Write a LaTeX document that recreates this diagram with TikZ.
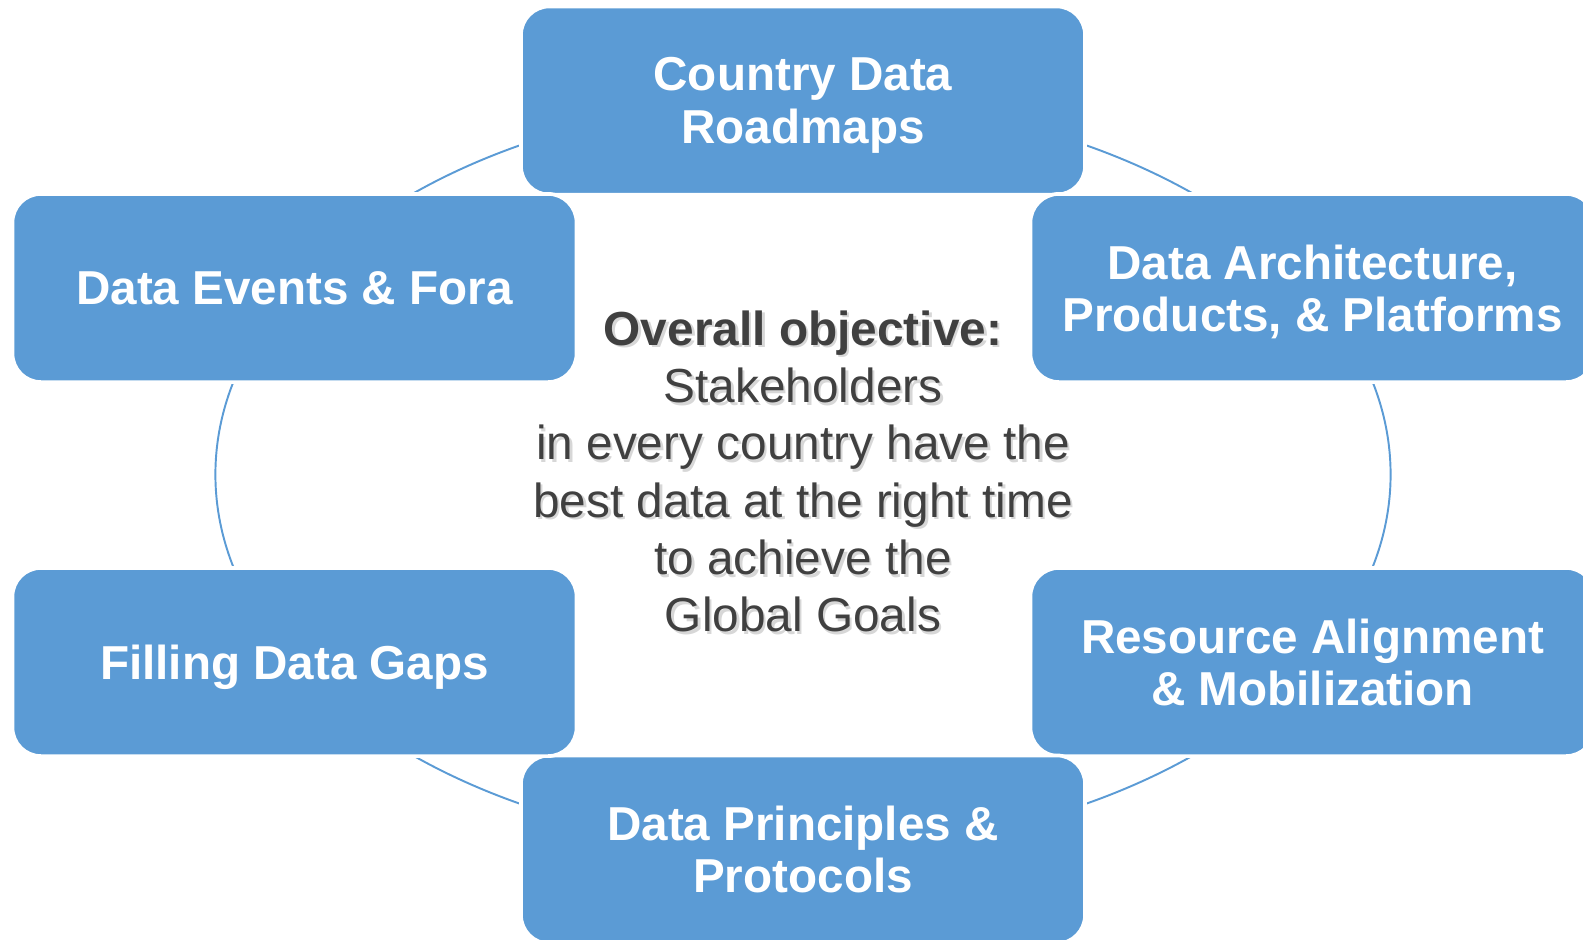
\documentclass[tikz,border=0pt]{standalone}
\usepackage{fontspec}
\setmainfont{Liberation Sans}
\usetikzlibrary{positioning}
\definecolor{azul}{HTML}{5B9BD5}
\definecolor{grisobj}{HTML}{404040}

\begin{document}
\begin{tikzpicture}[
		x=0.02cm, y=-0.02cm,
		topic/.style={
				preaction={draw=white, line width=2.8pt},
				draw=white, line width=1.4pt, fill=azul,
				rounded corners=0.56cm,
				minimum width=11.26cm, minimum height=3.74cm,
				text=white, align=center, inner sep=0pt, text depth=0pt,
				font=\fontsize{27.1pt}{29.8pt}\selectfont\bfseries
			},
		aim/.style={
				align=center, inner sep=0pt,
				font=\fontsize{27.2pt}{32.6pt}\selectfont
			}
	]
	\useasboundingbox (0,0) rectangle (1583,940);

	% ring behind the boxes
	\coordinate (hub) at (803,474.5);
	\draw[azul, line width=1.1pt] (hub) ellipse [x radius=587.6, y radius=375.6];

	% centre text, with its soft shadow
	\node[aim, text=gray!70, opacity=0.45] (goalshadow) at (805.5,474) {\textbf{Overall objective:}\\Stakeholders\\in every country have the\\best data at the right time\\to achieve the\\Global Goals};
	\node[aim, text=grisobj] (goal) at (803,471.5) {\textbf{Overall objective:}\\Stakeholders\\in every country have the\\best data at the right time\\to achieve the\\Global Goals};

	% the six work streams
	\node[topic] (roadmap) at (803,100.5) {Country Data\\Roadmaps};
	\node[topic] (architecture) at (1312.5,288) {Data Architecture,\\Products, \& Platforms};
	\node[topic] (resources) at (1312.5,662) {Resource Alignment\\\& Mobilization};
	\node[topic] (principles) at (803,849.5) {Data Principles \&\\Protocols};
	\node[topic] (gaps) at (294.5,662) {Filling Data Gaps};
	\node[topic] (events) at (294.5,288) {Data Events \& Fora};
\end{tikzpicture}
\end{document}
